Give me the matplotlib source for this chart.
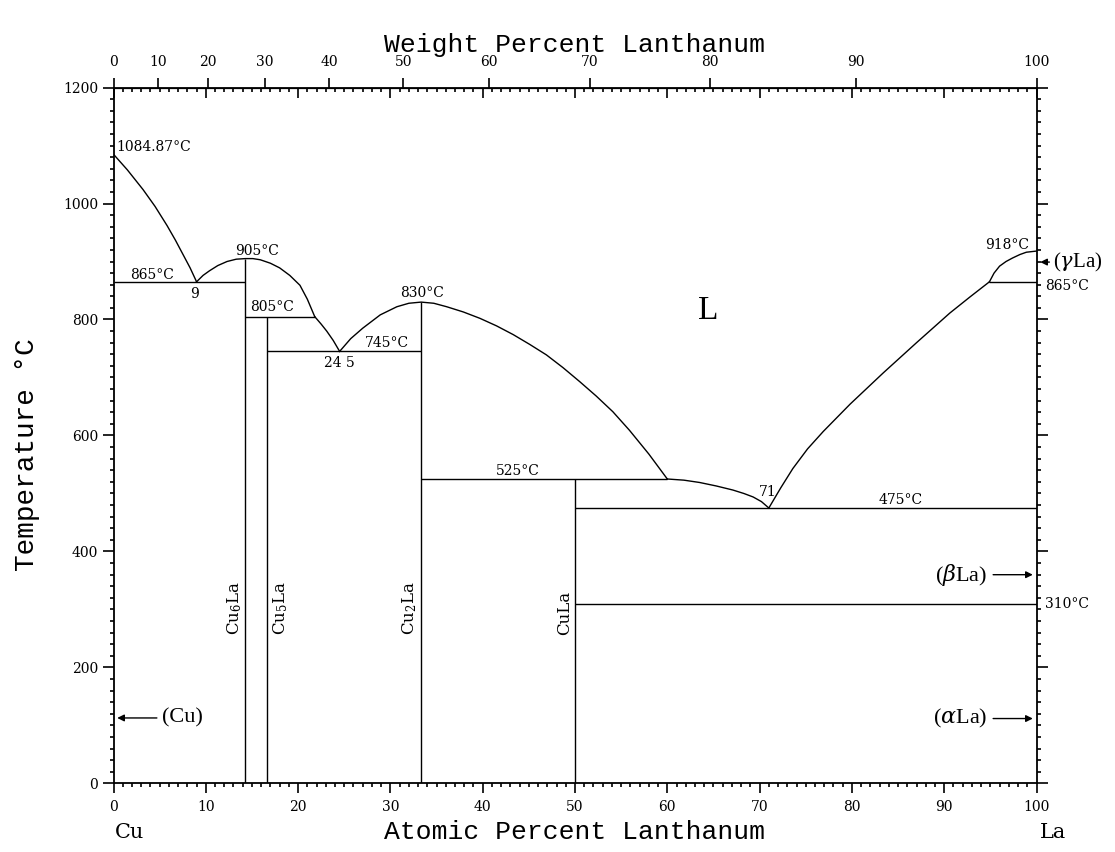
import numpy as np
import matplotlib
matplotlib.use('Agg')
import matplotlib.pyplot as plt
from matplotlib.ticker import MultipleLocator

M_CU, M_LA = 63.546, 138.905

# liquidus branches (at.% La, deg C)
liq_cu_x = [0, 1.5, 3.2, 4.5, 5.8, 6.7, 7.6, 8.3, 9.0]
liq_cu_t = [1084.87, 1058, 1024, 995, 962, 937, 910, 889, 865]
liq_cu6_x = [9.0, 9.7, 10.4, 11.3, 12.3, 13.3, 14.29, 15.1, 15.9, 17.0, 18.0, 19.1, 20.2, 21.0, 21.8]
liq_cu6_t = [865, 876, 884, 893, 900, 904, 905, 905, 903, 897, 889, 876, 859, 835, 805]
liq_cu5_x = [21.8, 22.5, 23.1, 23.8, 24.5]
liq_cu5_t = [805, 792, 780, 764, 745]
liq_cu2_x = [24.5, 25.7, 27.0, 28.9, 30.7, 32.0, 33.33, 34.7, 36.1, 37.9, 39.7, 41.5,
             43.3, 45.1, 46.9, 48.7, 50.5, 52.3, 54.1, 55.9, 58.0, 60.0]
liq_cu2_t = [745, 767, 785, 808, 822, 828, 830, 828, 822, 813, 802, 789,
             774, 757, 739, 717, 693, 668, 641, 609, 568, 525]
liq_cula_x = [60.0, 61.8, 63.5, 65.3, 67.1, 68.3, 69.3, 70.2, 71.0]
liq_cula_t = [525, 523, 519, 513, 506, 500, 494, 486, 475]
liq_la_x = [71.0, 72.3, 73.6, 75.2, 76.9, 79.8, 83.4, 87.0, 90.6, 92.8, 94.9]
liq_la_t = [475, 510, 543, 577, 607, 654, 708, 760, 811, 839, 865]
liq_gla_x = [94.9, 95.4, 96.0, 96.7, 97.4, 98.2, 98.9, 100]
liq_gla_t = [865, 880, 892, 900, 906, 912, 916, 918]

# invariant lines
iso_t = [865, 805, 745, 525, 475, 310, 865]
iso_x0 = [0, 14.29, 16.67, 33.33, 50, 50, 94.9]
iso_x1 = [14.29, 21.8, 33.33, 60, 100, 100, 100]

# compounds
comp_x = [14.29, 16.67, 33.33, 50]
comp_top = [905, 805, 830, 525]
comp_names = [r'Cu$_6$La', r'Cu$_5$La', r'Cu$_2$La', 'CuLa']

# temperature labels (text, at.%, T, ha)
labels = [
    ('1084.87°C', 0.3, 1097, 'left'),
    ('865°C', 4.2, 877, 'center'),
    ('9', 8.8, 844, 'center'),
    ('905°C', 15.6, 918, 'center'),
    ('805°C', 17.2, 821, 'center'),
    ('24 5', 24.5, 725, 'center'),
    ('745°C', 29.6, 759, 'center'),
    ('830°C', 33.4, 846, 'center'),
    ('525°C', 43.8, 538, 'center'),
    ('71', 70.9, 503, 'center'),
    ('475°C', 85.3, 489, 'center'),
    ('918°C', 96.8, 928, 'center'),
    ('865°C', 100.9, 858, 'left'),
    ('310°C', 100.9, 310, 'left'),
]


def at2wt(a):
    a = np.asarray(a, float)
    return 100 * a * M_LA / (a * M_LA + (100 - a) * M_CU)


def wt2at(w):
    w = np.asarray(w, float)
    return 100 * (w / M_LA) / (w / M_LA + (100 - w) / M_CU)


plt.rcParams['font.family'] = 'DejaVu Serif'
plt.rcParams['mathtext.fontset'] = 'dejavuserif'

fig = plt.figure(figsize=(11.15, 8.52), dpi=100)
ax = fig.add_axes([0.1018, 0.0804, 0.8278, 0.8169])
ax.set_xlim(0, 100)
ax.set_ylim(0, 1200)

kw = dict(color='black', lw=1.0)
for xs, ts in [(liq_cu_x, liq_cu_t), (liq_cu6_x, liq_cu6_t), (liq_cu5_x, liq_cu5_t),
               (liq_cu2_x, liq_cu2_t), (liq_cula_x, liq_cula_t), (liq_la_x, liq_la_t),
               (liq_gla_x, liq_gla_t)]:
    ax.plot(xs, ts, **kw)
ax.hlines(iso_t, iso_x0, iso_x1, **kw)
ax.vlines(comp_x, 0, comp_top, **kw)

for txt, x, t, ha in labels:
    ax.text(x, t, txt, ha=ha, va='center', fontsize=10, clip_on=False)

# compound names
for x, name in zip(comp_x, comp_names):
    if name == r'Cu$_5$La':
        ax.text(x + 0.4, 256, name, rotation=90, ha='left', va='bottom', fontsize=12)
    else:
        ax.text(x - 0.2, 256, name, rotation=90, ha='right', va='bottom', fontsize=12)

ax.text(64.4, 815, 'L', ha='center', va='center', fontsize=24, family='Liberation Serif')

# allotrope arrows
arr = dict(arrowstyle='-|>', color='black', lw=1.0, mutation_scale=10)
ax.annotate('', xy=(0.1, 113), xytext=(5.0, 113), arrowprops=arr)
ax.text(5.3, 113, '(Cu)', ha='left', va='center', fontsize=16, family='Liberation Serif')
ax.annotate('', xy=(99.9, 360), xytext=(95.0, 360), arrowprops=arr)
ax.text(94.7, 360, r'($\beta$La)', ha='right', va='center', fontsize=16, family='Liberation Serif')
ax.annotate('', xy=(99.9, 112), xytext=(95.0, 112), arrowprops=arr)
ax.text(94.7, 112, r'($\alpha$La)', ha='right', va='center', fontsize=16, family='Liberation Serif')
ax.annotate('', xy=(100.1, 899), xytext=(101.7, 899), arrowprops=arr, annotation_clip=False)
ax.text(101.8, 899, r'($\gamma$La)', ha='left', va='center', fontsize=15,
        family='Liberation Serif', clip_on=False)

# ticks
for s in ax.spines.values():
    s.set_linewidth(1.3)
ax.set_xticks(np.arange(0, 101, 10))
ax.xaxis.set_minor_locator(MultipleLocator(1))
ax.set_yticks(np.arange(0, 1201, 200))
ax.yaxis.set_minor_locator(MultipleLocator(20))
ax.tick_params(axis='x', which='both', bottom=True, top=False, direction='out', width=1.2)
ax.tick_params(axis='x', which='major', length=7, pad=5, labelsize=10)
ax.tick_params(axis='x', which='minor', length=3)
ax.tick_params(axis='y', which='both', left=True, right=True, direction='out', width=1.2)
ax.tick_params(axis='y', which='major', length=8, pad=3, labelsize=10)
ax.tick_params(axis='y', which='minor', length=3)

# mirrored atomic ticks at top (inward)
axm = ax.secondary_xaxis('top')
axm.set_xticks(np.arange(0, 101, 10))
axm.xaxis.set_minor_locator(MultipleLocator(1))
axm.tick_params(which='both', direction='in', labeltop=False, width=1.2)
axm.tick_params(which='major', length=7)
axm.tick_params(which='minor', length=3)

# weight percent axis
axw = ax.secondary_xaxis('top', functions=(at2wt, wt2at))
axw.set_xticks(np.arange(0, 101, 10))
axw.xaxis.set_minor_locator(MultipleLocator(100))
axw.tick_params(which='major', direction='out', length=7, width=1.2, pad=6, labelsize=10)
axw.tick_params(which='minor', length=0)

# axis titles
fig.text(575 / 1115, 1 - 45 / 852, 'Weight Percent Lanthanum', ha='center', va='center',
         fontsize=19, family='Liberation Mono')
fig.text(575 / 1115, 1 - 832 / 852, 'Atomic Percent Lanthanum', ha='center', va='center',
         fontsize=19, family='Liberation Mono')
fig.text(27 / 1115, 1 - 455 / 852, 'Temperature °C', ha='center', va='center', rotation=90,
         fontsize=20, family='Liberation Mono')
fig.text(115 / 1115, 1 - 833 / 852, 'Cu', ha='left', va='center', fontsize=15)
fig.text(1040 / 1115, 1 - 833 / 852, 'La', ha='left', va='center', fontsize=15)

fig.savefig('out.png', dpi=100)
